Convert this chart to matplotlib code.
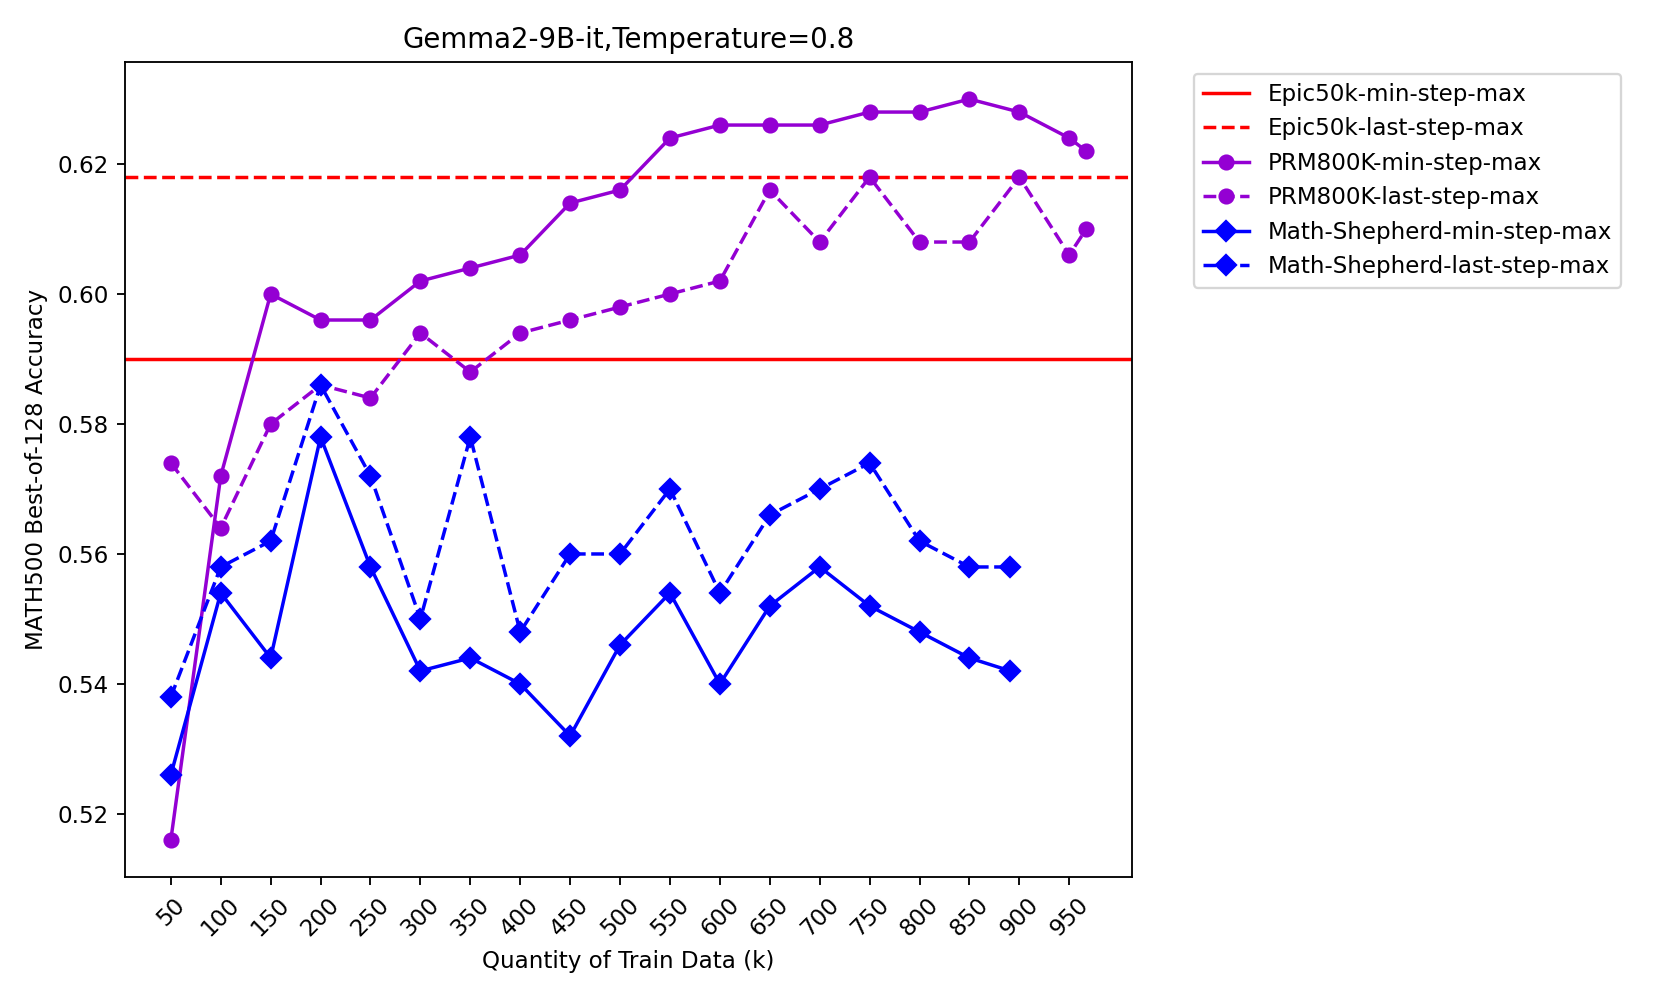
import numpy as np
import matplotlib
matplotlib.use("Agg")
import matplotlib.pyplot as plt

# ---------------------------------------------------------------------------
# Data
# ---------------------------------------------------------------------------
EPIC_MIN = 0.590
EPIC_LAST = 0.618

PRM_X = [50, 100, 150, 200, 250, 300, 350, 400, 450, 500,
         550, 600, 650, 700, 750, 800, 850, 900, 950, 967]
PRM_MIN = [0.516, 0.572, 0.600, 0.596, 0.596, 0.602, 0.604, 0.606, 0.614, 0.616,
           0.624, 0.626, 0.626, 0.626, 0.628, 0.628, 0.630, 0.628, 0.624, 0.622]
PRM_LAST = [0.574, 0.564, 0.580, 0.586, 0.584, 0.594, 0.588, 0.594, 0.596, 0.598,
            0.600, 0.602, 0.616, 0.608, 0.618, 0.608, 0.608, 0.618, 0.606, 0.610]

MS_X = [50, 100, 150, 200, 250, 300, 350, 400, 450, 500,
        550, 600, 650, 700, 750, 800, 850, 891]
MS_MIN = [0.526, 0.554, 0.544, 0.578, 0.558, 0.542, 0.544, 0.540, 0.532, 0.546,
          0.554, 0.540, 0.552, 0.558, 0.552, 0.548, 0.544, 0.542]
MS_LAST = [0.538, 0.558, 0.562, 0.586, 0.572, 0.550, 0.578, 0.548, 0.560, 0.560,
           0.570, 0.554, 0.566, 0.570, 0.574, 0.562, 0.558, 0.558]

XTICKS = list(range(50, 1000, 50))

PURPLE = "#9400D3"

# ---------------------------------------------------------------------------
# Plot
# ---------------------------------------------------------------------------
DPI = 166
fig = plt.figure(figsize=(1661 / DPI, 997 / DPI), dpi=DPI)
ax = fig.add_axes([0.0753, 0.1204, 0.6062, 0.8174])

ax.axhline(EPIC_MIN, color="red", ls="-", label="Epic50k-min-step-max")
ax.axhline(EPIC_LAST, color="red", ls="--", label="Epic50k-last-step-max")
ax.plot(PRM_X, PRM_MIN, color=PURPLE, ls="-", marker="o",
        label="PRM800K-min-step-max")
ax.plot(PRM_X, PRM_LAST, color=PURPLE, ls="--", marker="o",
        label="PRM800K-last-step-max")
ax.plot(MS_X, MS_MIN, color="blue", ls="-", marker="D",
        label="Math-Shepherd-min-step-max")
ax.plot(MS_X, MS_LAST, color="blue", ls="--", marker="D",
        label="Math-Shepherd-last-step-max")

ax.set_xticks(XTICKS)
ax.set_xticklabels([str(t) for t in XTICKS], rotation=45)
ax.set_xlabel("Quantity of Train Data (k)")
ax.set_ylabel("MATH500 Best-of-128 Accuracy")
ax.set_title("Gemma2-9B-it,Temperature=0.8")
ax.legend(bbox_to_anchor=(1.05, 1), loc="upper left")

fig.savefig("out.png", dpi=DPI)
